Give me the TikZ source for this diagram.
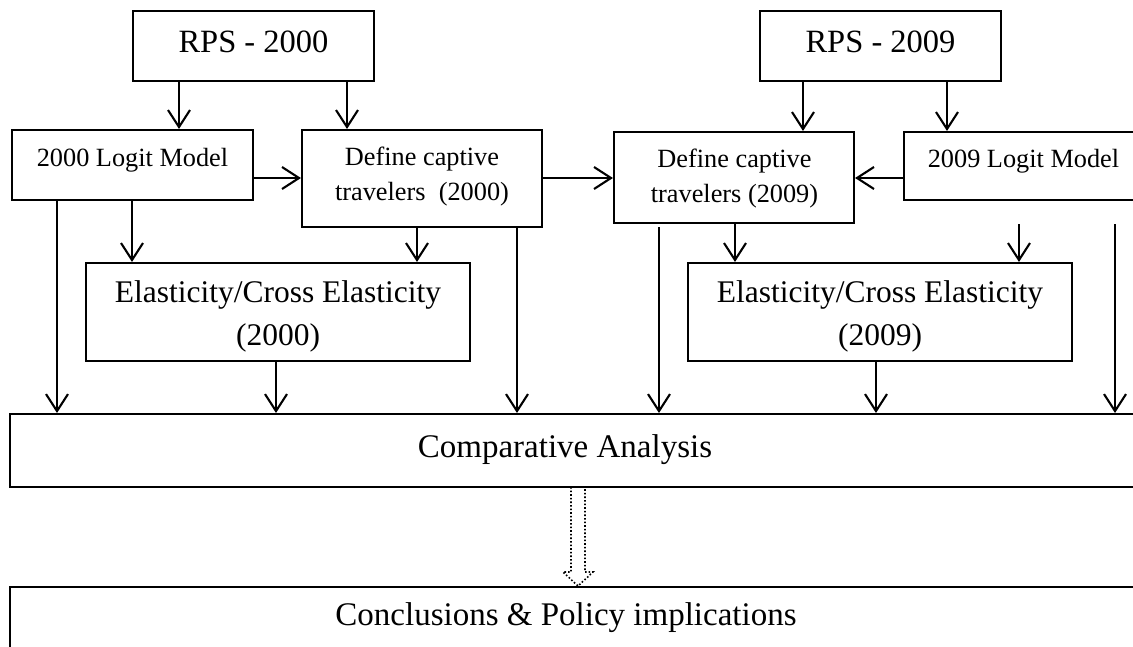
\documentclass[tikz,border=0pt]{standalone}
\usepackage{fontspec}
\setmainfont{Liberation Serif}
\usetikzlibrary{arrows.meta}
\tikzset{
  box/.style={draw=black, line width=2.1pt, fill=white, inner sep=0pt},
  arr/.style={line width=2.1pt, -{Straight Barb[length=17pt,width=22pt,line width=2.1pt]}},
  big/.style={font=\fontsize{31.5}{38}\selectfont, inner sep=0pt, anchor=base},
  bigger/.style={font=\fontsize{33}{40}\selectfont, inner sep=0pt, anchor=base},
  small/.style={font=\fontsize{26.3}{32}\selectfont, inner sep=0pt, anchor=base},
  blockarrow/.style={draw=black, line width=1.6pt, dotted}
}
\begin{document}
\begin{tikzpicture}[x=1pt,y=-1pt]
\useasboundingbox (0,0) rectangle (1133,646);
\clip (0,0) rectangle (1133,646);
% boxes
\node[box, minimum width=241pt, minimum height=70pt] (rps0) at (253.5,46) {};
\node[box, minimum width=241pt, minimum height=70pt] (rps9) at (880.5,46) {};
\node[box, minimum width=241pt, minimum height=70pt] (logit0) at (132.5,165) {};
\node[box, minimum width=240pt, minimum height=97pt] (def0) at (422,178.5) {};
\node[box, minimum width=240pt, minimum height=91pt] (def9) at (734,177.5) {};
\node[box, minimum width=239pt, minimum height=68pt] (logit9) at (1023.5,166) {};
\node[box, minimum width=384pt, minimum height=98pt] (el0) at (278,312) {};
\node[box, minimum width=384pt, minimum height=98pt] (el9) at (880,312) {};
\node[box, minimum width=1140pt, minimum height=73pt, anchor=north west] (comp) at (9,413) {};
\node[box, minimum width=1140pt, minimum height=80pt, anchor=north west] (concl) at (9,586) {};
% texts
\node[big, font=\fontsize{32.5}{38}\selectfont] (t1) at (253.5,52) {RPS - 2000};
\node[big, font=\fontsize{32.5}{38}\selectfont] (t2) at (880.5,52) {RPS - 2009};
\node[small] (t3) at (132.5,166) {2000 Logit Model};
\node[small] (t4) at (1023.5,167) {2009 Logit Model};
\node[small] (t5) at (422,165) {Define captive};
\node[small] (t6) at (422,200) {travelers\ \ (2000)};
\node[small] (t7) at (734.5,167) {Define captive};
\node[small] (t8) at (734.5,202) {travelers (2009)};
\node[big] (t9) at (278,302) {Elasticity/Cross Elasticity};
\node[big] (t10) at (278,345) {(2000)};
\node[big] (t11) at (880,302) {Elasticity/Cross Elasticity};
\node[big] (t12) at (880,345) {(2009)};
\node[bigger] (t13) at (565,457) {Comparative Analysis};
\node[bigger] (t14) at (566,625) {Conclusions \& Policy implications};
% column coordinates
\coordinate (x57) at (57,0);
\coordinate (x132) at (132,0);
\coordinate (x179) at (179,0);
\coordinate (x276) at (276,0);
\coordinate (x347) at (347,0);
\coordinate (x417) at (417,0);
\coordinate (x517) at (517,0);
\coordinate (x735) at (735,0);
\coordinate (x803) at (803,0);
\coordinate (x876) at (876,0);
\coordinate (x947) at (947,0);
\coordinate (y178) at (0,178);
% free arrow starts
\coordinate (f1) at (659,227);
\coordinate (f2) at (1019,224);
\coordinate (f3) at (1115,224);
% arrows
\draw[arr] (x179 |- rps0.south) -- (x179 |- logit0.north);
\draw[arr] (x347 |- rps0.south) -- (x347 |- def0.north);
\draw[arr] (x803 |- rps9.south) -- (x803 |- def9.north);
\draw[arr] (x947 |- rps9.south) -- (x947 |- logit9.north);
\draw[arr] (logit0.east |- y178) -- (def0.west |- y178);
\draw[arr] (def0.east |- y178) -- (def9.west |- y178);
\draw[arr] (logit9.west |- y178) -- (def9.east |- y178);
\draw[arr] (x57 |- logit0.south) -- (x57 |- comp.north);
\draw[arr] (x132 |- logit0.south) -- (x132 |- el0.north);
\draw[arr] (x417 |- def0.south) -- (x417 |- el0.north);
\draw[arr] (x517 |- def0.south) -- (x517 |- comp.north);
\draw[arr] (x276 |- el0.south) -- (x276 |- comp.north);
\draw[arr] (f1) -- (f1 |- comp.north);
\draw[arr] (x735 |- def9.south) -- (x735 |- el9.north);
\draw[arr] (f2) -- (f2 |- el9.north);
\draw[arr] (f3) -- (f3 |- comp.north);
\draw[arr] (x876 |- el9.south) -- (x876 |- comp.north);
% dotted block arrow
\draw[blockarrow] (571,487) -- (571,572) -- (563,572) -- (578,586) -- (593,572) -- (585,572) -- (585,487);
\end{tikzpicture}
\end{document}
